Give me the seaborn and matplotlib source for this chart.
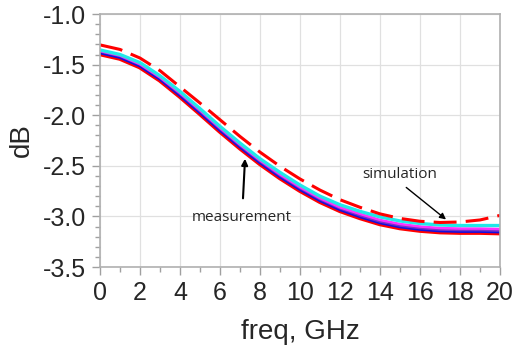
import matplotlib
matplotlib.use("Agg")
import matplotlib.pyplot as plt
import seaborn as sns
import numpy as np
import pandas as pd
from matplotlib.ticker import MultipleLocator

freq = list(range(0, 21))
sim = [-1.305, -1.35, -1.435, -1.56, -1.72, -1.88, -2.045, -2.21, -2.365, -2.505, -2.63,
       -2.74, -2.835, -2.91, -2.975, -3.02, -3.048, -3.06, -3.055, -3.035, -2.99]
meas_red = [-1.39, -1.435, -1.52, -1.65, -1.81, -1.98, -2.155, -2.32, -2.475, -2.615, -2.74,
            -2.85, -2.94, -3.01, -3.07, -3.11, -3.135, -3.15, -3.155, -3.155, -3.16]
meas_blue = [-1.38, -1.425, -1.51, -1.64, -1.80, -1.97, -2.145, -2.31, -2.465, -2.605, -2.73,
             -2.84, -2.93, -3.00, -3.06, -3.10, -3.125, -3.14, -3.145, -3.145, -3.15]
meas_purple = [-1.37, -1.415, -1.50, -1.63, -1.79, -1.96, -2.135, -2.30, -2.455, -2.595, -2.72,
               -2.83, -2.92, -2.99, -3.05, -3.09, -3.115, -3.13, -3.135, -3.135, -3.14]
meas_magenta = [-1.365, -1.41, -1.495, -1.625, -1.78, -1.95, -2.125, -2.29, -2.445, -2.585, -2.71,
                -2.82, -2.91, -2.975, -3.035, -3.075, -3.10, -3.115, -3.12, -3.12, -3.125]
meas_cyan = [-1.355, -1.40, -1.48, -1.61, -1.765, -1.935, -2.11, -2.275, -2.43, -2.565, -2.69,
             -2.80, -2.885, -2.95, -3.005, -3.045, -3.07, -3.085, -3.09, -3.09, -3.09]

xticks = list(range(0, 21, 2))
yticks = [-3.5, -3.0, -2.5, -2.0, -1.5, -1.0]

sns.set_style("white")
plt.rcParams['font.family'] = ['Liberation Sans', 'DejaVu Sans']

fig = plt.figure(figsize=(5.14, 3.51), dpi=100)
ax = fig.add_axes([0.1946, 0.2393, 0.7782, 0.7207])

meas = [(meas_red, "#ff0000", 4.0), (meas_blue, "#1010e0", 2.6),
        (meas_purple, "#7a30c8", 1.8), (meas_magenta, "#ff30ff", 1.8),
        (meas_cyan, "#20e8e8", 2.4)]
for vals, col, lw in meas:
    sns.lineplot(x=freq, y=vals, color=col, lw=lw, ax=ax)
sns.lineplot(x=freq, y=sim, color="#ff0000", lw=2.2, ax=ax)
ax.lines[-1].set_dashes([7.5, 3])

ax.set_xlim(0, 20)
ax.set_ylim(-3.5, -1.0)
ax.set_xticks(xticks)
ax.set_yticks(yticks)
ax.set_xticklabels([str(t) for t in xticks], fontsize=18)
ax.set_yticklabels([f"{t:.1f}" for t in yticks], fontsize=18)
ax.xaxis.set_minor_locator(MultipleLocator(1))
ax.yaxis.set_minor_locator(MultipleLocator(0.1))
ax.tick_params(which='major', direction='out', length=6, color='#a0a0a0', width=1, pad=4, bottom=True, left=True)
ax.tick_params(which='minor', direction='out', length=3.5, color='#a0a0a0', width=1, bottom=True, left=True)
ax.grid(True, which='major', color='#e0e0e0', lw=0.9)
for s in ax.spines.values():
    s.set_color('#b0b0b0')
    s.set_linewidth(1.2)
ax.set_xlabel("freq, GHz", fontsize=20, labelpad=10)
ax.set_ylabel("dB", fontsize=20, labelpad=6)

ax.annotate("simulation", xy=(17.3, -3.03), xytext=(15.0, -2.59),
            fontsize=11, family=['Open Sans', 'DejaVu Sans'], ha='center', va='center',
            arrowprops=dict(arrowstyle='-|>', color='black', lw=1.0, shrinkA=2, shrinkB=0,
                            mutation_scale=9, relpos=(0.5, 0.0)))
ax.annotate("measurement", xy=(7.25, -2.43), xytext=(7.1, -3.01),
            fontsize=11, family=['Open Sans', 'DejaVu Sans'], ha='center', va='center',
            arrowprops=dict(arrowstyle='-|>', color='black', lw=1.5, shrinkA=6, shrinkB=0,
                            mutation_scale=9))

fig.savefig("out.png", dpi=100)
